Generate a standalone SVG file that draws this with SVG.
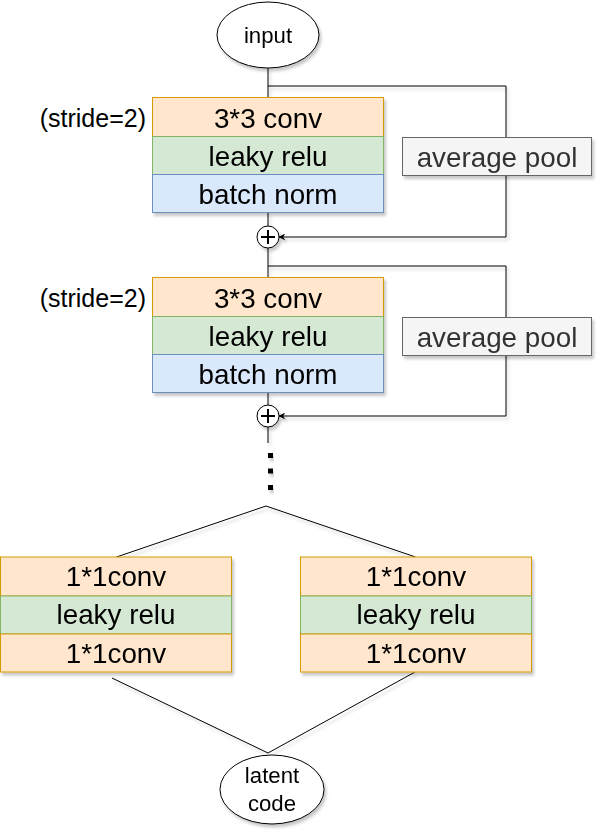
<svg xmlns="http://www.w3.org/2000/svg" width="601" height="834" viewBox="0 0 601 834">
<defs>
<filter id="sh" x="-10%" y="-10%" width="130%" height="140%">
<feDropShadow dx="2" dy="3" stdDeviation="1.5" flood-color="#000" flood-opacity="0.22"/>
</filter>
<marker id="arr" viewBox="0 0 10 10" refX="9" refY="5" markerWidth="7" markerHeight="7" markerUnits="userSpaceOnUse" orient="auto">
<path d="M0,0 L10,5 L0,10 L3,5 Z" fill="#000"/>
</marker>
</defs>
<style>
text{font-family:"Liberation Sans",Arial,sans-serif;fill:#000;text-anchor:middle}
.big{font-size:27.8px}
.mid{font-size:25px}
.sm{font-size:22.2px}
.or{fill:#ffe6cc;stroke:#d79b00;stroke-width:1}
.gr{fill:#d5e8d4;stroke:#82b366;stroke-width:1}
.bl{fill:#dae8fc;stroke:#6c8ebf;stroke-width:1}
.pool{fill:#f5f5f5;stroke:#666666;stroke-width:1}
.pooltxt{fill:#333333}
.ell{fill:#fff;stroke:#000;stroke-width:1}
.edge{fill:none;stroke:#000;stroke-width:1}
.plus{fill:none;stroke:#000;stroke-width:2}
.dot{fill:#000}
</style>
<g id="connectors" filter="url(#sh)">
<path class="edge" d="M268,68 V98"/>
<path class="edge" d="M268,86 H506 V237 H279" marker-end="url(#arr)"/>
<path class="edge" d="M268,212.5 V226"/>
<path class="edge" d="M268,248 V277.5"/>
<path class="edge" d="M268,266 H506 V416 H279" marker-end="url(#arr)"/>
<path class="edge" d="M268,392.5 V405"/>
<path class="edge" d="M268,427 V443"/>
<path class="edge" d="M116.5,557 L266,506 L415.5,557"/>
<path class="edge" d="M112,678 L268,753"/>
<path class="edge" d="M415,672 L268,753"/>
</g>
<g id="input" filter="url(#sh)">
<ellipse class="ell" cx="268" cy="35" rx="51" ry="33"/>
<text class="sm" x="268" y="42.5">input</text>
</g>
<g id="stride1"><text class="mid" x="146" y="126.5" style="text-anchor:end">(stride=2)</text></g>
<g id="block1" filter="url(#sh)">
<rect class="or" x="152.5" y="97.5" width="231" height="39"/>
<rect class="gr" x="152.5" y="136.5" width="231" height="38"/>
<rect class="bl" x="152.5" y="174.5" width="231" height="38"/>
<text class="big" x="268" y="127.5">3*3 conv</text>
<text class="big" x="268" y="166">leaky relu</text>
<text class="big" x="268" y="204">batch norm</text>
</g>
<g id="pool1" filter="url(#sh)">
<rect class="pool" x="402.5" y="137.5" width="189" height="38"/>
<text class="big pooltxt" x="497" y="166.5">average pool</text>
</g>
<g id="add1" filter="url(#sh)">
<circle class="ell" cx="268" cy="237" r="11"/>
<path class="plus" d="M261,237 H275 M268,230 V244"/>
</g>
<g id="stride2"><text class="mid" x="146" y="306.5" style="text-anchor:end">(stride=2)</text></g>
<g id="block2" filter="url(#sh)">
<rect class="or" x="152.5" y="277.5" width="231" height="39"/>
<rect class="gr" x="152.5" y="316.5" width="231" height="38"/>
<rect class="bl" x="152.5" y="354.5" width="231" height="38"/>
<text class="big" x="268" y="307.5">3*3 conv</text>
<text class="big" x="268" y="346">leaky relu</text>
<text class="big" x="268" y="384">batch norm</text>
</g>
<g id="pool2" filter="url(#sh)">
<rect class="pool" x="402.5" y="317.5" width="189" height="38"/>
<text class="big pooltxt" x="497" y="346.5">average pool</text>
</g>
<g id="add2" filter="url(#sh)">
<circle class="ell" cx="268" cy="416" r="11"/>
<path class="plus" d="M261,416 H275 M268,409 V423"/>
</g>
<g id="dots" filter="url(#sh)">
<rect class="dot" x="268" y="453" width="5" height="5"/>
<rect class="dot" x="268" y="468.5" width="5" height="5"/>
<rect class="dot" x="268" y="485" width="5" height="5"/>
</g>
<g id="head1" filter="url(#sh)">
<rect class="or" x="0.5" y="557" width="231" height="39"/>
<rect class="gr" x="0.5" y="596" width="231" height="38"/>
<rect class="or" x="0.5" y="634" width="231" height="38"/>
<text class="big" x="116" y="585.5">1*1conv</text>
<text class="big" x="116" y="623.5">leaky relu</text>
<text class="big" x="116" y="662.5">1*1conv</text>
</g>
<g id="head2" filter="url(#sh)">
<rect class="or" x="300.5" y="557" width="231" height="39"/>
<rect class="gr" x="300.5" y="596" width="231" height="38"/>
<rect class="or" x="300.5" y="634" width="231" height="38"/>
<text class="big" x="416" y="585.5">1*1conv</text>
<text class="big" x="416" y="623.5">leaky relu</text>
<text class="big" x="416" y="662.5">1*1conv</text>
</g>
<g id="latent" filter="url(#sh)">
<ellipse class="ell" cx="272" cy="789.5" rx="52" ry="34.5"/>
<text class="sm" x="272" y="783">latent</text>
<text class="sm" x="272" y="810.5">code</text>
</g>
</svg>
